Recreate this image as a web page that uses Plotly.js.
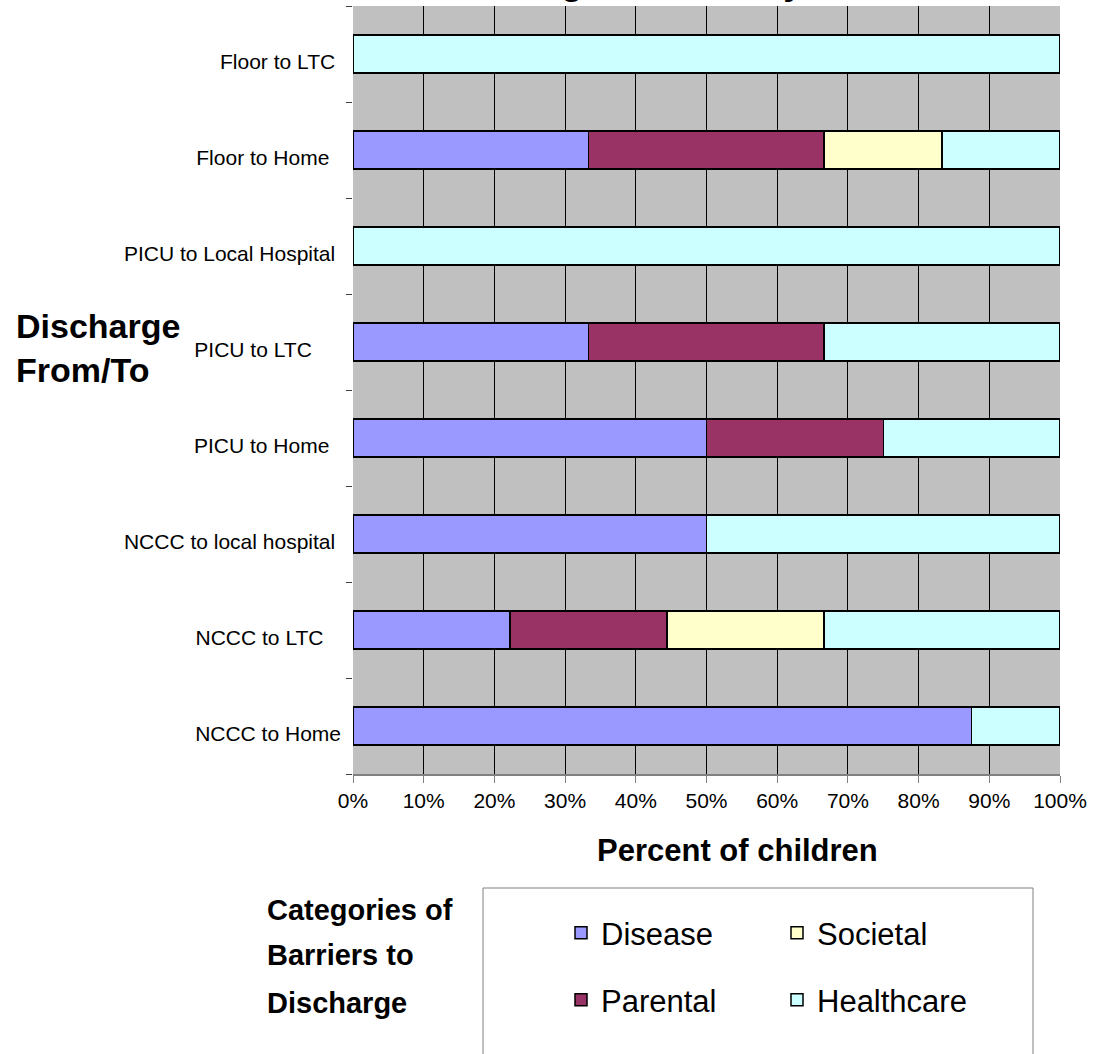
<!DOCTYPE html>
<html>
<head>
<meta charset="utf-8">
<script src="https://cdn.plot.ly/plotly-3.0.1.min.js"></script>
<style>
  html, body { margin: 0; padding: 0; background: #ffffff; }
  #chart { width: 1094px; height: 1054px; }
</style>
</head>
<body>
<div id="chart"></div>
<script>
// ---- data (percent of children), categories listed top to bottom ----
const categories = ["Floor to LTC", "Floor to Home", "PICU to Local Hospital", "PICU to LTC",
                    "PICU to Home", "NCCC to local hospital", "NCCC to LTC", "NCCC to Home"];
const disease    = [0, 33.3, 0, 33.3, 50, 50, 22.2, 87.5];
const parental   = [0, 33.3, 0, 33.3, 25, 0, 22.2, 0];
const societal   = [0, 16.7, 0, 0, 0, 0, 22.2, 0];
const healthcare = [100, 16.7, 100, 33.3, 25, 50, 33.3, 12.5];
const xTickVals  = [0, 10, 20, 30, 40, 50, 60, 70, 80, 90, 100];
const xTickText  = ["0%", "10%", "20%", "30%", "40%", "50%", "60%", "70%", "80%", "90%", "100%"];

// ---- styling ----
const FONT = "Liberation Sans, Arial, Helvetica, sans-serif";
const labelTrailingSpaces = [1, 2, 1, 5, 2, 1, 3, 0];   // mimic ragged label ends of the original
const yTickText = categories.map((c, i) => c + "\u00a0".repeat(labelTrailingSpaces[i]));

// plot area in pixels: left 353, right 1060, top 6, bottom 774
const L = 353, R = 1060, T = 6, B = 774;
const px = x => (x - L) / (R - L);
const py = y => (B - y) / (B - T);

function barTrace(name, values, color, legendId, rank) {
  return {
    type: "bar", orientation: "h", name: name,
    y: categories, x: values,
    marker: { color: color, line: { color: "#000000", width: 1.5 } },
    legend: legendId, legendrank: rank,
    hoverinfo: "skip"
  };
}

const data = [
  barTrace("Disease",    disease,    "#9999FF", "legend",  1),
  barTrace("Parental",   parental,   "#993366", "legend2", 1),
  barTrace("Societal",   societal,   "#FFFFCC", "legend",  2),
  barTrace("Healthcare", healthcare, "#CCFFFF", "legend2", 2)
];

const legendCommon = {
  orientation: "h", xanchor: "left", yanchor: "middle", traceorder: "normal",
  font: { family: FONT, size: 31, color: "#000" },
  bgcolor: "rgba(0,0,0,0)", borderwidth: 0,
  entrywidth: 171, entrywidthmode: "pixels",
  itemclick: false, itemdoubleclick: false
};

const layout = {
  width: 1094, height: 1054,
  margin: { l: L, r: 1094 - R, t: T, b: 1054 - B, autoexpand: false },
  paper_bgcolor: "#ffffff",
  plot_bgcolor: "#C0C0C0",
  barmode: "stack",
  bargap: 0.6,
  showlegend: true,
  font: { family: FONT, color: "#000000" },
  xaxis: {
    range: [0, 100], tickvals: xTickVals, ticktext: xTickText,
    showgrid: true, gridcolor: "#000000", gridwidth: 1,
    zeroline: false,
    showline: true, linecolor: "#808080", linewidth: 2,
    ticks: "outside", ticklen: 7, tickcolor: "#808080", tickwidth: 1,
    tickfont: { family: FONT, size: 21, color: "#000" },
    fixedrange: true
  },
  yaxis: {
    type: "category", autorange: "reversed",
    tickvals: categories, ticktext: yTickText,
    tickson: "boundaries", ticks: "outside", ticklen: 6, tickcolor: "#404040", tickwidth: 1,
    showgrid: false, showline: false, zeroline: false,
    tickfont: { family: FONT, size: 21, color: "#000" },
    ticklabelstandoff: 11,
    ticklabelshift: -8,
    fixedrange: true
  },
  legend:  Object.assign({}, legendCommon, { x: px(561), y: py(933) }),
  legend2: Object.assign({}, legendCommon, { x: px(561), y: py(1000) }),
  shapes: [
    { type: "rect", xref: "paper", yref: "paper",
      x0: px(483), x1: px(1033), y0: py(888), y1: py(1070),
      line: { color: "#808080", width: 1 }, fillcolor: "rgba(0,0,0,0)", layer: "below" }
  ],
  annotations: [
    { text: "Discharge Barriers by Location", xref: "paper", yref: "paper",
      x: px(427), y: py(4), xanchor: "left", yanchor: "bottom", showarrow: false,
      font: { family: FONT, size: 36, weight: "bold", color: "#000" } },
    { text: "Discharge<br>From/To", xref: "paper", yref: "paper",
      x: px(14), y: py(348), xanchor: "left", yanchor: "middle", align: "left", showarrow: false,
      font: { family: FONT, size: 34, weight: "bold", color: "#000" } },
    { text: "Percent of children", xref: "paper", yref: "paper",
      x: px(737), y: py(850), xanchor: "center", yanchor: "middle", showarrow: false,
      font: { family: FONT, size: 31, weight: "bold", color: "#000" } },
    { text: "Categories of", xref: "paper", yref: "paper",
      x: px(265), y: py(910), xanchor: "left", yanchor: "middle", showarrow: false,
      font: { family: FONT, size: 29, weight: "bold", color: "#000" } },
    { text: "Barriers to", xref: "paper", yref: "paper",
      x: px(265), y: py(955), xanchor: "left", yanchor: "middle", showarrow: false,
      font: { family: FONT, size: 29, weight: "bold", color: "#000" } },
    { text: "Discharge", xref: "paper", yref: "paper",
      x: px(265), y: py(1003), xanchor: "left", yanchor: "middle", showarrow: false,
      font: { family: FONT, size: 29, weight: "bold", color: "#000" } }
  ]
};

Plotly.newPlot("chart", data, layout, { displayModeBar: false, staticPlot: true });
</script>
</body>
</html>
